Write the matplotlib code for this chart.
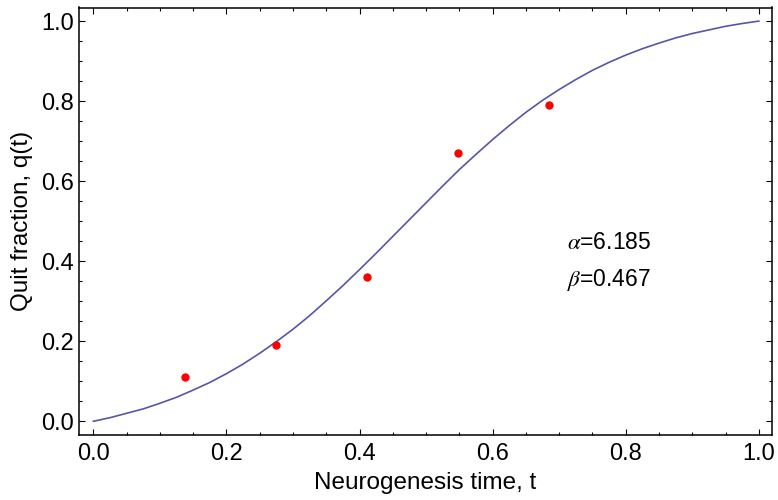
import numpy as np
import matplotlib.pyplot as plt
from matplotlib.ticker import MultipleLocator

# measured points
t_data = [0.137, 0.274, 0.411, 0.548, 0.685]
q_data = [0.11, 0.19, 0.36, 0.67, 0.79]

# fitted curve, every 0.025
t_fit = [0.0, 0.025, 0.05, 0.075, 0.10, 0.125, 0.15, 0.175, 0.20, 0.225,
         0.25, 0.275, 0.30, 0.325, 0.35, 0.375, 0.40, 0.425, 0.45, 0.475,
         0.50, 0.525, 0.55, 0.575, 0.60, 0.625, 0.65, 0.675, 0.70, 0.725,
         0.75, 0.775, 0.80, 0.825, 0.85, 0.875, 0.90, 0.925, 0.95, 0.975, 1.0]
q_fit = [0.0, 0.009, 0.020, 0.031, 0.045, 0.060, 0.078, 0.097, 0.119, 0.143,
         0.170, 0.199, 0.230, 0.264, 0.301, 0.339, 0.379, 0.420, 0.462, 0.504,
         0.546, 0.588, 0.629, 0.667, 0.704, 0.739, 0.772, 0.802, 0.829, 0.854,
         0.877, 0.897, 0.915, 0.931, 0.945, 0.958, 0.969, 0.978, 0.987, 0.994, 1.0]

alpha_txt = "6.185"
beta_txt = "0.467"

plt.rcParams['font.family'] = ['Liberation Sans', 'DejaVu Sans']
plt.rcParams['mathtext.fontset'] = 'stix'

fig = plt.figure(figsize=(7.78, 5.0), dpi=100)
ax = fig.add_axes([0.102, 0.131, 0.890, 0.854])

ax.plot(t_fit, q_fit, color='#5656a8', lw=1.2)
ax.plot(t_data, q_data, 'o', color='red', markersize=6, markeredgewidth=0)

ax.text(0.712, 0.447, r'$\alpha$=' + alpha_txt, fontsize=16.5, va='center')
ax.text(0.712, 0.352, r'$\beta$=' + beta_txt, fontsize=16.5, va='center')

ax.set_xlim(-0.021, 1.0195)
ax.set_ylim(-0.033, 1.034)
ax.xaxis.set_major_locator(MultipleLocator(0.2))
ax.xaxis.set_minor_locator(MultipleLocator(0.05))
ax.yaxis.set_major_locator(MultipleLocator(0.2))
ax.yaxis.set_minor_locator(MultipleLocator(0.05))
ax.xaxis.set_major_formatter(lambda v, p: f"{v:.1f}")
ax.yaxis.set_major_formatter(lambda v, p: f"{v:.1f}")

ax.tick_params(which='both', direction='in', top=True, right=True, labelsize=17, width=0.8)
ax.tick_params(which='major', length=4.5)
ax.tick_params(which='minor', length=2.5)
ax.tick_params(axis='x', which='major', pad=6)
ax.tick_params(axis='y', which='major', pad=4)
for s in ax.spines.values():
    s.set_linewidth(1.1)

ax.set_xlabel('Neurogenesis time, t', fontsize=17.5, labelpad=5)
ax.set_ylabel('Quit fraction, q(t)', fontsize=17.5, labelpad=6)

fig.savefig('out.png', dpi=100)
